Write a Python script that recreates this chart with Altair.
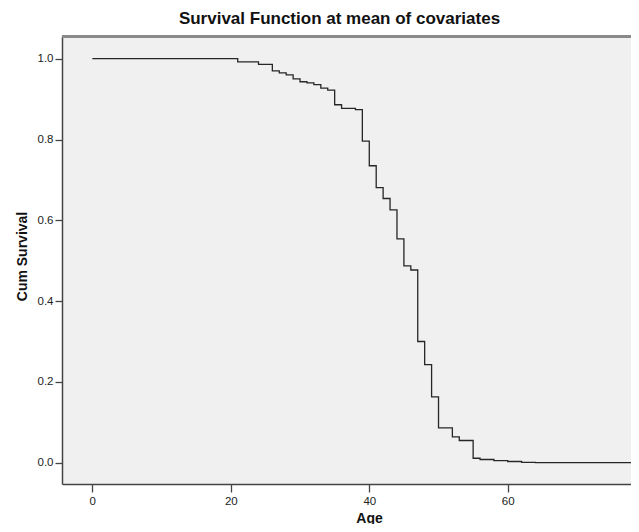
import altair as alt
import pandas as pd

# Step change points (Age) and cumulative survival after each change
ages = [0, 21, 24, 26, 27, 28, 29, 30, 31, 32, 33, 34, 35, 36, 38, 39, 40, 41,
        42, 43, 44, 45, 46, 47, 48, 49, 50, 52, 53, 55, 56, 58, 60, 62, 64, 78]
survival = [1.0, 0.992, 0.986, 0.970, 0.965, 0.960, 0.950, 0.943, 0.940, 0.936,
            0.927, 0.922, 0.886, 0.877, 0.874, 0.796, 0.735, 0.681, 0.654, 0.626,
            0.554, 0.487, 0.477, 0.300, 0.243, 0.163, 0.086, 0.064, 0.055, 0.011,
            0.008, 0.005, 0.003, 0.001, 0.0, 0.0]

x_ticks = [0, 20, 40, 60]
y_ticks = [0.0, 0.2, 0.4, 0.6, 0.8, 1.0]

df = pd.DataFrame({"Age": ages, "Cum Survival": survival})

W, H = 569, 448
FONT = "Liberation Sans"

line = alt.Chart(df).mark_line(
    interpolate="step-after", color="#262626", strokeWidth=1.3, clip=True
).encode(
    x=alt.X("Age:Q",
            scale=alt.Scale(domain=[-4.38, 77.8], nice=False, zero=False),
            axis=alt.Axis(values=x_ticks, format="d", title="Age",
                          titleX=307, titleY=38, titleBaseline="alphabetic",
                          titleAlign="center")),
    y=alt.Y("Cum Survival:Q",
            scale=alt.Scale(domain=[-0.0527, 1.0562], nice=False, zero=False),
            axis=alt.Axis(values=y_ticks, format=".1f", title="Cum Survival",
                          titleX=-40, titleY=220, titleAngle=-90,
                          titleBaseline="middle", titleAlign="center")),
)

top_border = alt.Chart(df).mark_rule(color="#8a8a8a", strokeWidth=2).encode(
    x=alt.value(0), x2=alt.value(W), y=alt.value(0.5)
)

chart = alt.layer(line, top_border).properties(
    width=W, height=H,
    title=alt.Title("Survival Function at mean of covariates", anchor="middle",
                    dx=-7, offset=8, fontSize=17, font=FONT,
                    fontWeight="bold", color="#111"),
    autosize=alt.AutoSizeParams(type="none"),
    padding={"left": 54, "top": 28, "right": 0, "bottom": 40},
).configure_view(
    fill="#f0f0f0", stroke=None
).configure_axis(
    grid=False,
    domainColor="#444", domainWidth=1.5,
    tickColor="#444", tickWidth=1.3,
    labelFont=FONT, labelFontSize=11.5, labelColor="#222",
    titleFont=FONT, titleFontSize=14, titleFontWeight="bold", titleColor="#111",
).configure_axisX(
    tickSize=8, labelPadding=3
).configure_axisY(
    tickSize=7, labelPadding=2
)

chart.save("out.html", embed_options={"renderer": "svg", "actions": False})
